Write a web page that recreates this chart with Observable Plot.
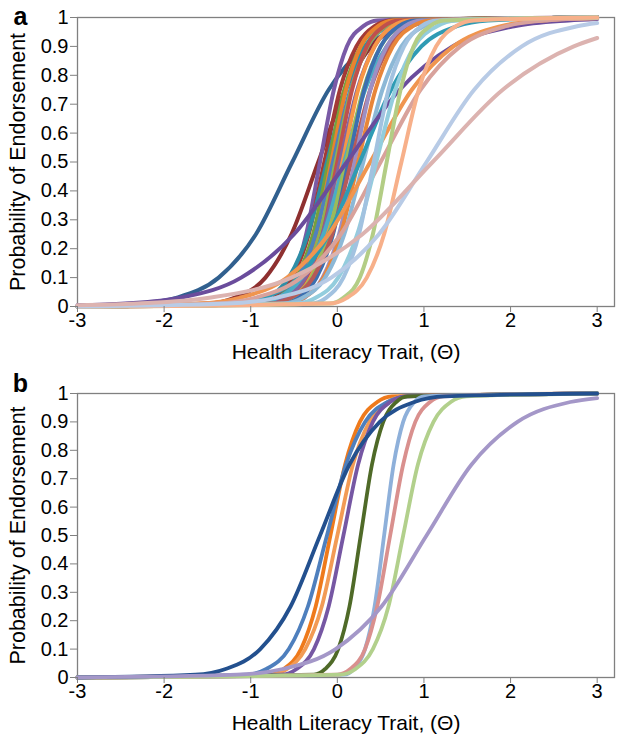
<!DOCTYPE html>
<html><head><meta charset="utf-8">
<script src="https://cdn.jsdelivr.net/npm/d3@7"></script>
<script src="https://cdn.jsdelivr.net/npm/@observablehq/plot@0.6"></script>
<style>
body{margin:0;background:#fff;font-family:"Liberation Sans",Arial,Helvetica,sans-serif;}
#wrap{position:relative;width:624px;height:747px;overflow:hidden;}
.panel{position:absolute;left:0;}
</style></head><body>
<div id="wrap"><div id="pa" class="panel" style="top:0px"></div><div id="pb" class="panel" style="top:376px"></div></div>
<script>
const pLevels = [0.01, 0.03, 0.1, 0.25, 0.5, 0.75, 0.9, 0.97, 0.99];
const xTicks = [-3, -2, -1, 0, 1, 2, 3];
const yTicks = [0, 0.1, 0.2, 0.3, 0.4, 0.5, 0.6, 0.7, 0.8, 0.9, 1];
const xTitle = "Health Literacy Trait, (\u0398)";
const yTitle = "Probability of Endorsement";

// Panel a
const aNames = ["darkBlue","darkRed","purpleA","brownRed","teal1","green1","orange1","blue1","olive","red","purple2","ltOrange","aqua","green2","blue2","rose","lavender","orange2","ltBlue","tealShallow","darkPurple","orangeShallow","rosy","ltAqua","paleBlue","ltGreen","peach","ltSteel","pink"];
const aColors = ["#31608f","#8e3030","#7a5aa6","#a33a36","#2e8da6","#76a03c","#e9822f","#4f81bd","#8fb153","#c0504d","#8064a2","#f79646","#4bacc6","#9bbb59","#3c6fb0","#b65a58","#9d8fc4","#e8863a","#8db8d6","#2f9bb4","#6a4c9c","#f0954f","#d8a29c","#93cddd","#a2c2e0","#b3cd85","#f7b08a","#b8cbe6","#dcb3b0"];
const aThetas = [
  [-2.29,-1.86,-1.37,-0.94,-0.52,-0.10,0.33,0.82,1.25],
  [-1.50,-1.19,-0.83,-0.53,-0.22,0.09,0.39,0.75,1.06],
  [-0.86,-0.70,-0.51,-0.36,-0.20,-0.04,0.11,0.30,0.46],
  [-0.92,-0.73,-0.52,-0.33,-0.15,0.03,0.22,0.43,0.62],
  [-1.04,-0.82,-0.56,-0.34,-0.12,0.10,0.32,0.58,0.80],
  [-0.87,-0.68,-0.47,-0.28,-0.10,0.08,0.27,0.48,0.67],
  [-0.78,-0.61,-0.41,-0.24,-0.07,0.10,0.27,0.47,0.64],
  [-0.89,-0.68,-0.45,-0.25,-0.05,0.15,0.35,0.58,0.79],
  [-0.79,-0.60,-0.39,-0.20,-0.02,0.16,0.35,0.56,0.75],
  [-0.71,-0.54,-0.34,-0.17,0.00,0.17,0.34,0.54,0.71],
  [-0.81,-0.60,-0.37,-0.17,0.03,0.23,0.43,0.66,0.87],
  [-0.71,-0.52,-0.31,-0.12,0.06,0.24,0.43,0.64,0.83],
  [-0.94,-0.69,-0.41,-0.16,0.08,0.32,0.57,0.85,1.10],
  [-0.74,-0.53,-0.30,-0.10,0.10,0.30,0.50,0.73,0.94],
  [-0.64,-0.45,-0.24,-0.05,0.13,0.31,0.50,0.71,0.90],
  [-0.76,-0.54,-0.28,-0.06,0.16,0.38,0.60,0.86,1.08],
  [-0.57,-0.38,-0.17,0.02,0.20,0.38,0.57,0.78,0.97],
  [-0.60,-0.39,-0.16,0.04,0.24,0.44,0.64,0.87,1.08],
  [-0.62,-0.40,-0.14,0.08,0.30,0.52,0.74,1.00,1.22],
  [-1.22,-0.86,-0.45,-0.10,0.26,0.62,0.97,1.38,1.74],
  [-2.45,-1.82,-1.11,-0.50,0.11,0.72,1.33,2.04,2.67],
  [-1.62,-1.13,-0.58,-0.10,0.38,0.86,1.34,1.89,2.38],
  [-1.42,-0.95,-0.42,0.04,0.50,0.96,1.42,1.95,2.42],
  [-0.47,-0.25,0.01,0.23,0.45,0.67,0.89,1.15,1.37],
  [-0.31,-0.13,0.07,0.25,0.42,0.59,0.77,0.97,1.15],
  [-0.09,0.07,0.26,0.41,0.57,0.73,0.88,1.07,1.23],
  [-0.10,0.11,0.34,0.54,0.74,0.94,1.14,1.37,1.58],
  [-1.27,-0.71,-0.07,0.48,1.03,1.58,2.13,2.77,3.33],
  [-2.31,-1.48,-0.53,0.29,1.10,1.91,2.73,3.68,4.50]
];
const aStartP = [0.002,0,0,0,0,0,0,0,0,0,0,0,0,0,0,0,0,0,0,0,0.004,0,0,0,0,0,0,0,0.004];
const aEndP   = [1,1,1,1,1,1,1,1,1,1,1,1,1,1,1,1,1,1,1,1,0.995,0.998,0.997,1,1,1,1,0.981,0.929];

// Panel b
const bNames = ["orange","ltOrange","medBlue","purple","darkGreen","ltBlue","salmon","ltGreen","darkBlue","lavender"];
const bColors = ["#ee7a1c","#f29b55","#4e7fbd","#7657a3","#4f6a28","#8eb0da","#d9908e","#b2d08c","#23508e","#a497c8"];
const bThetas = [
  [-0.79,-0.62,-0.42,-0.25,-0.08,0.09,0.26,0.46,0.63],
  [-0.77,-0.58,-0.37,-0.18,0.00,0.18,0.37,0.58,0.77],
  [-1.04,-0.82,-0.56,-0.34,-0.12,0.10,0.32,0.58,0.80],
  [-0.65,-0.47,-0.27,-0.10,0.07,0.24,0.41,0.61,0.79],
  [-0.27,-0.14,0.01,0.14,0.27,0.40,0.53,0.68,0.81],
  [0.08,0.19,0.32,0.43,0.54,0.65,0.76,0.89,1.00],
  [0.00,0.15,0.32,0.46,0.61,0.76,0.90,1.07,1.22],
  [0.03,0.21,0.41,0.59,0.76,0.93,1.11,1.31,1.49],
  [-1.64,-1.29,-0.89,-0.54,-0.20,0.14,0.49,0.89,1.24],
  [-1.16,-0.63,-0.02,0.51,1.03,1.55,2.08,2.69,3.22]
];
const bStartP = [0,0,0,0,0,0,0,0,0,0];
const bEndP   = [1,1,1,1,1,1,1,1,1,0.984];

function buildRows(names, thetas, startP, endP) {
  const rows = [];
  names.forEach((n, i) => {
    rows.push({s: n, t: -3, p: startP[i]});
    thetas[i].forEach((t, k) => { if (t > -3 && t < 3) rows.push({s: n, t, p: pLevels[k]}); });
    rows.push({s: n, t: 3, p: endP[i]});
  });
  return rows;
}

function panel(tag, tagDy, H, names, colors, thetas, startP, endP, sw) {
  const rows = buildRows(names, thetas, startP, endP);
  return Plot.plot({
    width: 624, height: H,
    marginTop: 17, marginBottom: 70, marginLeft: 77, marginRight: 10,
    style: {fontFamily: '"Liberation Sans", Arial, Helvetica, sans-serif', color: "#000", background: "#fff", overflow: "visible"},
    x: {domain: [-3, 3.2]},
    y: {domain: [0, 1]},
    color: {domain: names, range: colors},
    marks: [
      Plot.frame({stroke: "#808080", strokeWidth: 1.3}),
      Plot.line(rows, {x: "t", y: "p", z: "s", stroke: "s", strokeWidth: sw, curve: "monotone-x"}),
      Plot.axisY({ticks: yTicks, tickSize: 7, tickPadding: 2, tickFormat: d => String(+d.toFixed(1)), fontSize: 20, stroke: "#808080", label: null}),
      Plot.axisX({ticks: xTicks, tickSize: 6, tickPadding: 0, tickFormat: d => String(d), fontSize: 20, stroke: "#808080", label: null}),
      Plot.text([xTitle], {frameAnchor: "bottom", textAnchor: "middle", lineAnchor: "middle", dy: 46, fontSize: 21}),
      Plot.text([yTitle], {frameAnchor: "left", textAnchor: "middle", lineAnchor: "middle", dx: -59, rotate: -90, fontSize: 21.5}),
      Plot.text([tag], {frameAnchor: "top-left", textAnchor: "middle", lineAnchor: "middle", dx: -57, dy: tagDy, fontSize: 25, fontWeight: "bold"})
    ]
  });
}

document.getElementById("pa").append(panel("a", -1, 376, aNames, aColors, aThetas, aStartP, aEndP, 4));
document.getElementById("pb").append(panel("b", -10, 371, bNames, bColors, bThetas, bStartP, bEndP, 3.8));
</script>
</body></html>
